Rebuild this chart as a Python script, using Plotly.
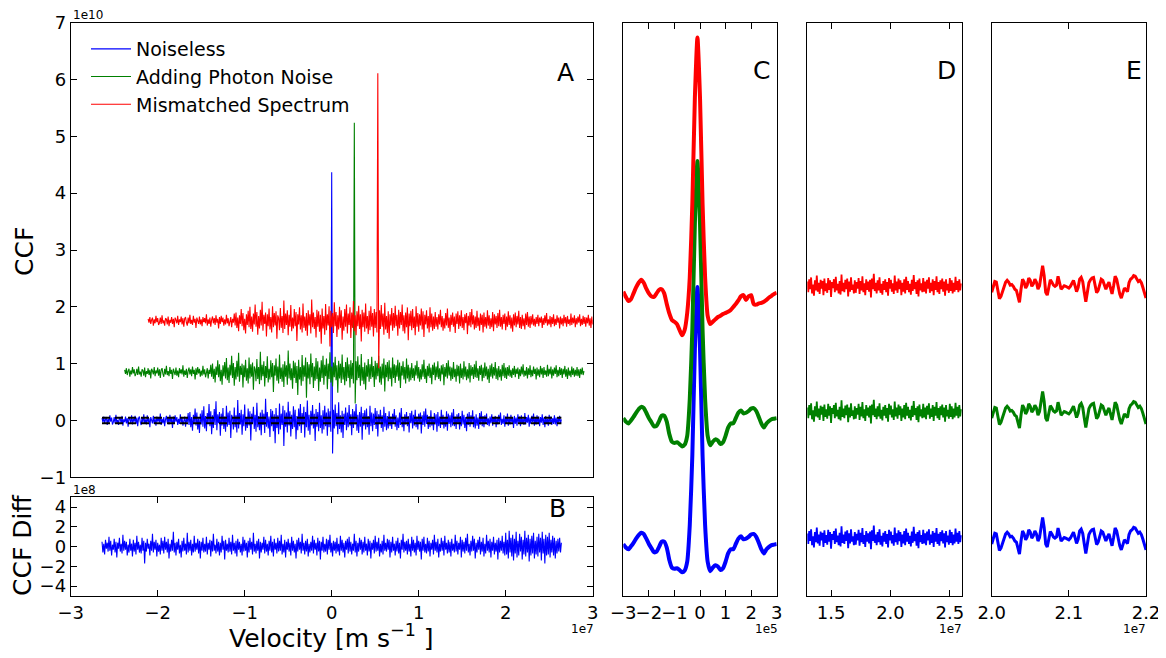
import plotly.graph_objects as go

# ---------------- data ----------------
series_names = ["Noiseless", "Adding Photon Noise", "Mismatched Spectrum"]
series_colors = ["#0000ff", "#008000", "#ff0000"]

# Panel A: velocity in units of 1e7 m/s, CCF in units of 1e10
vel_a_start = -2.64
vel_a_step = 0.01
noise_a = [
    0.04, -0.03, 0.07, -0.05, 0.02, 0.06, -0.08, 0.03, -0.04, 0.09,
    -0.02, 0.05, -0.07, -0.03, 0.06, -0.05, 0.10, -0.04, 0.01, -0.08,
    0.05, 0.03, -0.06, 0.08, -0.09, 0.02, -0.03, 0.07, -0.05, 0.04,
    -0.11, 0.06, 0.02, -0.04, 0.09, -0.07, 0.03, -0.02, 0.08, -0.06,
    0.05, -0.10, 0.04, 0.07, -0.03, -0.08, 0.06, -0.04, 0.11, -0.05,
    0.02, -0.07, 0.09, -0.03, 0.04, -0.12, 0.06, 0.01, -0.05, 0.08,
    -0.06, 0.03, -0.09, 0.07, -0.02, 0.05, -0.04, 0.12, -0.08, 0.03,
    -0.05, 0.06, -0.10, 0.02, 0.08, -0.04, 0.05, -0.07, 0.10, -0.03,
    0.04, -0.13, 0.07, -0.05, 0.09, -0.02, 0.06, -0.08, 0.03, -0.06,
    0.11, -0.04, 0.05, -0.09, 0.02, 0.07, -0.11, 0.04, -0.03, 0.13,
    -0.08, 0.15, -0.12, 0.06, -0.18, 0.10, -0.05, 0.21, -0.09, 0.14,
    -0.16, 0.04, -0.22, 0.12, -0.07, 0.18, -0.11, 0.25, -0.14, 0.08,
    -0.19, 0.13, -0.06, 0.29, -0.10, 0.16, -0.24, 0.09, -0.13, 0.20,
    -0.08, 0.34, -0.17, 0.11, -0.05, 0.15, -0.27, 0.12, -0.09, 0.22,
    -0.15, 0.07, -0.20, 0.26, -0.11, 0.14, -0.08, 0.17, -0.31, 0.10,
    0.05, -0.16, 0.23, -0.12, 0.09, -0.21, 0.36, -0.14, 0.13, -0.07,
    0.19, -0.25, 0.11, -0.10, 0.28, -0.18, 0.06, -0.13, 0.21, -0.09,
    0.16, -0.35, 0.12, -0.06, 0.24, -0.15, 0.10, -0.20, 0.31, -0.12,
    0.08, -0.17, 0.14, -0.26, 0.19, -0.08, 0.12, -0.22, 0.38, -0.11,
    0.15, -0.14, 0.07, -0.29, 0.20, -0.10, 0.17, -0.19, 0.11, -0.40,
    0.22, -0.13, 0.09, -0.24, 0.30, -0.16, 0.12, -0.08, 0.26, -0.45,
    0.18, -0.11, 0.14, -0.21, 0.33, -0.09, 0.16, -0.28, 0.10, -0.15,
    0.25, -0.12, 0.19, -0.33, 0.08, -0.17, 0.21, -0.10, 0.29, -0.22,
    0.13, -0.07, 0.24, -0.30, 0.15, -0.12, 0.35, -0.18, 0.10, -0.25,
    0.17, -0.09, 0.27, -0.14, 0.12, -0.36, 0.20, -0.11, 0.15, -0.19,
    0.31, -0.13, 0.09, -0.23, 0.18, -0.16, 0.26, -0.10, 0.14, -0.27,
    0.21, -0.12, 0.16, -0.20,
    0.0, 0.0,
    0.19, -0.14, 0.28, -0.10, 0.13, -0.24, 0.32, -0.15, 0.09, -0.21,
    0.17, -0.31, 0.12, -0.08, 0.23, -0.17, 0.14, -0.12, 0.27, -0.09,
    0.11, -0.26, 0.20, -0.13, 0.16, -0.07, 0.29, -0.18, 0.10, -0.22,
    0.15, -0.11, 0.24, -0.34, 0.13, -0.09, 0.18, -0.16, 0.21, -0.12,
    0.08, -0.25, 0.26, -0.10, 0.14, -0.19, 0.12, -0.08, 0.22, -0.15,
    0.17, -0.28, 0.11, -0.06, 0.19, -0.13, 0.09, -0.20, 0.24, -0.11,
    0.13, -0.17, 0.08, -0.14,
    0.16, -0.10, 0.07, -0.15, 0.12, -0.06, 0.20, -0.11, 0.09, -0.17,
    0.05, -0.13, 0.14, -0.08, 0.22, -0.12, 0.06, -0.19, 0.11, -0.07,
    0.15, -0.10, 0.08, -0.21, 0.13, -0.05, 0.17, -0.14, 0.10, -0.09,
    0.19, -0.12, 0.07, -0.16, 0.12, -0.04, 0.14, -0.23, 0.09, -0.08,
    0.16, -0.11, 0.21, -0.06, 0.10, -0.15, 0.08, -0.12, 0.18, -0.09,
    0.06, -0.17, 0.13, -0.07, 0.11, -0.20, 0.15, -0.10, 0.07, -0.13,
    0.19, -0.08, 0.10, -0.14, 0.05, -0.11, 0.16, -0.18, 0.12, -0.06,
    0.09, -0.12, 0.14, -0.09, 0.20, -0.10, 0.07, -0.15, 0.11, -0.05,
    0.13, -0.16, 0.08, -0.10, 0.17, -0.07, 0.10, -0.13, 0.06, -0.19,
    0.12, -0.08, 0.15, -0.11, 0.09, -0.06, 0.18, -0.12, 0.07, -0.14,
    0.11, -0.09, 0.05, -0.15, 0.13, -0.07, 0.16, -0.10, 0.08, -0.12,
    0.09, -0.06, 0.12, -0.08, 0.04, -0.10, 0.07, -0.05, 0.11, -0.09,
    0.06, -0.03, 0.08, -0.12, 0.05, -0.07, 0.10, -0.04, 0.14, -0.08,
    0.03, -0.06, 0.09, -0.11, 0.07, -0.05, 0.12, -0.09, 0.04, -0.07,
    0.10, -0.03, 0.06, -0.13, 0.08, -0.06, 0.05, -0.09, 0.11, -0.04,
    0.07, -0.10, 0.09, -0.05, 0.03, -0.08, 0.13, -0.07, 0.06, -0.04,
    0.10, -0.11, 0.05, -0.06, 0.08, -0.03, 0.12, -0.09, 0.04, -0.07,
    0.09, -0.05, 0.07, -0.10, 0.06, -0.04, 0.11, -0.08, 0.05, -0.12,
    0.08, -0.06, 0.03, -0.09, 0.10, -0.05, 0.07, -0.08, 0.04, -0.06,
    0.09, -0.07, 0.05, -0.10, 0.06, -0.04, 0.08, -0.05, 0.02,
]
peak_index_a = 264
offset_a = [0.0, 0.85, 1.75]
shift_a = [0.0, 0.26, 0.53]
peak_a = [4.37, 4.39, 4.36]
dip_a = [-0.58, -0.55, -0.83]
dash_levels_a = [0.05, -0.05]

# Panel B: CCF difference in units of 1e8 (same velocity grid as blue in A)
diff_b = [
    0.5, -0.6, 0.3, -0.8, 0.7, -0.2, 0.4, -0.5, 1.0, -0.4,
    0.6, -0.9, 0.2, -0.3, 0.8, -0.6, 0.5, -1.1, 0.4, -0.2,
    0.9, -0.5, 0.3, -0.7, 1.2, -0.4, 0.6, -0.3, 0.5, -0.9,
    0.2, -0.6, 0.8, -0.4, 0.3, -1.0, 0.7, -0.5, 0.4, -0.8,
    1.1, -0.3, 0.5, -0.6, 0.2, -0.7, 0.9, -0.4, 0.6, -1.7,
    0.4, -0.5, 0.8, -0.2, 0.3, -0.9, 0.6, -0.4, 1.3, -0.6,
    0.5, -0.3, 0.7, -1.0, 0.4, -0.5, 0.2, -0.8, 0.9, -0.4,
    0.6, -0.7, 1.0, -0.3, 0.5, -0.6, 0.8, -1.2, 0.3, -0.5,
    0.7, -0.4, 1.5, -0.6, 0.4, -0.9, 0.5, -0.3, 0.8, -0.7,
    0.2, -1.1, 0.6, -0.5, 0.9, -0.4, 0.3, -0.8, 1.4, -0.6,
    0.5, -0.4, 0.7, -0.9, 0.3, -0.6, 1.1, -0.5, 0.4, -0.3,
    0.8, -0.7, 0.6, -1.2, 0.5, -0.4, 0.9, -0.6, 0.3, -0.5,
    1.0, -0.8, 0.4, -0.3, 0.7, -1.0, 0.6, -0.5, 1.3, -0.4,
    0.2, -0.7, 0.8, -0.5, 0.5, -0.9, 0.4, -0.6, 1.1, -0.3,
    0.6, -1.3, 0.7, -0.4, 0.3, -0.6, 0.9, -0.5, 0.5, -0.8,
    1.2, -0.4, 0.4, -0.7, 0.6, -1.0, 0.8, -0.3, 0.5, -0.6,
    0.3, -0.9, 1.0, -0.5, 0.7, -0.4, 0.4, -1.1, 0.6, -0.6,
    0.9, -0.3, 0.5, -0.8, 1.4, -0.5, 0.3, -0.7, 0.6, -0.4,
    0.8, -1.2, 0.5, -0.6, 0.4, -0.3, 1.0, -0.7, 0.7, -0.5,
    0.3, -0.9, 0.6, -0.4, 1.1, -0.6, 0.5, -1.0, 0.8, -0.3,
    0.4, -0.7, 0.9, -0.5, 0.6, -0.4, 1.2, -0.8, 0.3, -0.6,
    0.7, -1.1, 0.5, -0.3, 0.8, -0.5, 0.4, -0.9, 1.0, -0.4,
    0.6, -0.6, 0.3, -1.2, 0.7, -0.5, 0.9, -0.3, 0.5, -0.7,
    1.3, -0.4, 0.4, -0.8, 0.6, -0.5, 0.8, -1.0, 0.3, -0.6,
    0.5, -0.4, 1.1, -0.7, 0.7, -0.3, 0.4, -0.9, 0.9, -0.5,
    0.6, -1.3, 0.5, -0.4, 1.0, -0.6, 0.3, -0.5, 0.8, -0.8,
    0.7, -0.3, 1.2, -0.6, 0.4, -1.0, 0.6, -0.4, 0.5, -0.7,
    0.9, -0.5, 0.3, -0.9, 1.1, -0.4, 0.7, -0.6, 0.4, -1.1,
    0.6, -0.3, 0.8, -0.7, 1.0, -0.5, 0.5, -0.8, 0.3, -0.4,
    1.3, -0.6, 0.6, -1.0, 0.4, -0.5, 0.9, -0.3, 0.7, -0.8,
    0.5, -0.6, 1.0, -0.4, 0.3, -0.9, 0.8, -0.5, 0.6, -1.2,
    0.4, -0.3, 0.7, -0.7, 1.1, -0.5, 0.5, -0.4, 0.9, -1.0,
    0.3, -0.6, 0.6, -0.8, 1.2, -0.4, 0.4, -0.5, 0.8, -0.3,
    0.7, -1.1, 0.5, -0.6, 1.0, -0.4, 0.3, -0.9, 0.6, -0.5,
    0.9, -0.7, 0.4, -1.2, 0.7, -0.3, 1.3, -0.6, 0.5, -0.4,
    0.6, -0.8, 0.8, -0.5, 0.3, -1.0, 1.0, -0.4, 0.7, -0.6,
    0.4, -0.9, 1.1, -0.3, 0.6, -0.5, 0.5, -1.3, 0.8, -0.4,
    1.0, -0.6, 0.3, -0.7, 0.9, -0.5, 0.6, -1.0, 0.4, -0.3,
    0.7, -0.8, 1.2, -0.4, 0.5, -0.6, 0.8, -1.1, 0.3, -0.5,
    0.9, -0.4, 0.6, -0.9, 1.1, -0.3, 0.4, -0.7, 0.7, -0.6,
    0.5, -1.0, 0.8, -0.4, 0.3, -0.6, 1.2, -0.5, 0.6, -0.8,
    0.4, -0.3, 1.0, -1.1, 0.7, -0.5, 0.5, -0.7, 0.9, -0.4,
    1.3, -0.6, 0.3, -0.9, 0.6, -0.5, 1.1, -0.4, 0.8, -1.2,
    0.4, -0.6, 0.7, -0.3, 1.0, -0.8, 0.5, -0.5, 0.9, -1.0,
    0.3, -0.7, 1.2, -0.4, 0.6, -0.6, 0.8, -1.1, 0.5, -0.4,
    1.0, -0.8, 0.4, -0.5, 0.7, -1.3, 0.9, -0.6, 0.6, -0.4,
    1.1, -0.7, 0.5, -0.9,
    1.4, -0.8, 0.7, -1.2, 1.6, -0.6, 0.9, -1.0, 1.2, -1.4,
    0.8, -0.7, 1.5, -1.1, 0.6, -0.9, 1.3, -0.5, 1.0, -1.3,
    0.7, -0.8, 1.6, -1.0, 0.9, -0.6, 1.2, -1.5, 0.8, -0.9,
    1.1, -0.7, 1.4, -1.2, 0.6, -0.8, 1.0, -1.0, 1.3, -0.6,
    0.9, -1.4, 1.5, -0.7, 0.8, -1.7, 1.2, -0.9, 1.0, -0.8,
    1.4, -1.1, 0.7, -0.6, 1.1, -0.9, 0.9, -1.2, 0.6, -0.7,
    0.8, -0.5, 0.9, -0.6, 0.4,
]

# Panels C, D, E share an (unlabelled) CCF scale in units of 1e10
offset_cde = [0.0, 2.13, 4.26]

# Panel C: velocity in units of 1e5 m/s
vel_c_start = -3.0
vel_c_step = 0.1
ccf_c = [
    -0.10, -0.16, -0.19, -0.14, -0.08, -0.01, 0.05, 0.09, 0.07, -0.01,
    -0.10, -0.17, -0.24, -0.23, -0.15, -0.06, -0.06, -0.16, -0.37, -0.50,
    -0.52, -0.51, -0.54, -0.58, -0.55, -0.40, 0.22, 1.40, 3.20, 4.25,
    3.20, 1.40, 0.22, -0.40, -0.56, -0.50, -0.46, -0.48, -0.54, -0.51,
    -0.40, -0.26, -0.19, -0.19, -0.10, -0.01, 0.03, -0.02, -0.01, 0.02,
    0.06, 0.07, 0.02, -0.08, -0.19, -0.26, -0.19, -0.15, -0.12, -0.11,
    -0.10,
]
ccf_c_red = [
    -0.09, -0.18, -0.25, -0.22, -0.12, -0.02, 0.06, 0.11, 0.06, -0.04,
    -0.12, -0.17, -0.18, -0.12, -0.06, -0.05, -0.12, -0.30, -0.46, -0.57,
    -0.60, -0.64, -0.74, -0.83, -0.74, -0.45, 0.15, 1.40, 3.20, 4.21,
    3.20, 1.40, 0.15, -0.50, -0.64, -0.60, -0.56, -0.52, -0.50, -0.47,
    -0.45, -0.43, -0.40, -0.35, -0.30, -0.24, -0.17, -0.15, -0.23, -0.17,
    -0.15, -0.30, -0.31, -0.29, -0.28, -0.26, -0.23, -0.19, -0.16, -0.13,
    -0.11,
]

# Panel D: velocity in units of 1e7 m/s
vel_d_start = 1.3
vel_d_step = 0.008
ccf_d = [
    0.08, -0.10, 0.12, -0.05, 0.15, -0.12, 0.03, -0.16, 0.10, -0.07,
    0.18, -0.09, 0.06, -0.13, 0.11, -0.04, 0.09, -0.15, 0.13, -0.08,
    0.05, -0.11, 0.14, -0.06, 0.10, -0.18, 0.07, -0.03, 0.12, -0.10,
    0.16, -0.07, 0.04, -0.12, 0.09, -0.14, 0.20, -0.08, 0.06, -0.10,
    0.11, -0.05, 0.13, -0.17, 0.08, -0.09, 0.15, -0.06, 0.03, -0.12,
    0.10, -0.11, 0.07, -0.04, 0.14, -0.13, 0.09, -0.07, 0.17, -0.10,
    0.05, -0.15, 0.12, -0.06, 0.08, -0.09, 0.11, -0.19, 0.13, -0.05,
    0.21, -0.08, 0.06, -0.12, 0.10, -0.07, 0.15, -0.11, 0.04, -0.14,
    0.09, -0.06, 0.12, -0.10, 0.07, -0.16, 0.14, -0.04, 0.11, -0.09,
    0.05, -0.13, 0.18, -0.07, 0.08, -0.11, 0.13, -0.05, 0.10, -0.15,
    0.06, -0.09, 0.12, -0.12, 0.16, -0.06, 0.09, -0.10, 0.04, -0.14,
    0.11, -0.08, 0.19, -0.05, 0.07, -0.13, 0.10, -0.17, 0.13, -0.07,
    0.05, -0.10, 0.14, -0.09, 0.08, -0.12, 0.11, -0.04, 0.15, -0.11,
    0.06, -0.08, 0.12, -0.15, 0.09, -0.06, 0.17, -0.10, 0.07, -0.13,
    0.10, -0.05, 0.13, -0.09, 0.08, -0.16, 0.12, -0.07, 0.04, -0.11,
    0.14, -0.08, 0.10, -0.12, 0.06, -0.09, 0.16, -0.06, 0.09, -0.10,
    0.12, -0.07, 0.05,
]

# Panel E: velocity in units of 1e7 m/s
vel_e_start = 2.0
vel_e_step = 0.002
ccf_e = [
    -0.10, 0.01, 0.08, 0.07, -0.07, -0.21, -0.17, -0.09, 0.00, 0.07,
    0.10, 0.07, 0.02, 0.03, 0.00, -0.05, -0.07, -0.19, -0.27, -0.05,
    0.12, 0.07, -0.03, 0.02, 0.14, 0.10, 0.00, 0.04, 0.12, 0.07,
    -0.05, 0.01, 0.18, 0.35, 0.18, -0.10, -0.15, 0.01, 0.11, 0.07,
    0.02, 0.00, 0.02, 0.17, 0.08, -0.05, -0.02, 0.01, 0.00, -0.02,
    -0.03, 0.00, 0.06, 0.10, 0.01, -0.09, -0.02, 0.12, 0.15, 0.08,
    -0.10, -0.26, -0.10, 0.06, 0.11, 0.14, 0.15, 0.04, -0.11, -0.07,
    0.04, 0.12, 0.10, 0.00, -0.05, 0.02, 0.07, -0.03, -0.13, 0.01,
    0.17, 0.12, -0.03, -0.13, -0.20, -0.13, -0.03, -0.06, -0.09, 0.06,
    0.12, 0.14, 0.18, 0.17, 0.11, 0.08, 0.10, 0.06, -0.02, -0.10,
    -0.20,
]

# tick labels
ticks_a_y = [-1, 0, 1, 2, 3, 4, 5, 6, 7]
ticks_b_x = [-3, -2, -1, 0, 1, 2, 3]
ticks_b_y = [-4, -2, 0, 2, 4]
ticks_c_x = [-3, -2, -1, 0, 1, 2, 3]
ticks_d_x = [1.5, 2.0, 2.5]
ticks_e_x = [2.0, 2.1, 2.2]


def grid(start, step, n):
    return [round(start + i * step, 6) for i in range(n)]


def lab(v, fmt="{:g}"):
    s = fmt.format(v)
    return s.replace("-", "\u2212")


# ---------------- figure ----------------
W, H = 1166, 658
OFF = 8  # the page body adds an 8px margin; positions below are screen pixels
FONT = "DejaVu Sans"
fig = go.Figure()

vel_a = grid(vel_a_start, vel_a_step, len(noise_a))

# Panel A traces
for k in range(3):
    yv = [offset_a[k] + v for v in noise_a]
    yv[peak_index_a] = offset_a[k] + peak_a[k]
    yv[peak_index_a + 1] = offset_a[k] + dip_a[k]
    fig.add_trace(go.Scatter(
        x=[round(v + shift_a[k], 6) for v in vel_a], y=yv, mode="lines",
        line=dict(color=series_colors[k], width=1.1),
        name=series_names[k], legendgroup=series_names[k],
        xaxis="x", yaxis="y", showlegend=True,
    ))
for lvl in dash_levels_a:
    fig.add_trace(go.Scatter(
        x=[vel_a[0], vel_a[-1]], y=[lvl, lvl], mode="lines",
        line=dict(color="black", width=2, dash="8px,5px"),
        xaxis="x", yaxis="y", showlegend=False, hoverinfo="skip",
    ))

# Panel B
fig.add_trace(go.Scatter(
    x=vel_a, y=diff_b, mode="lines", line=dict(color=series_colors[0], width=1.1),
    xaxis="x2", yaxis="y2", showlegend=False,
))

# Panel C
vel_c = grid(vel_c_start, vel_c_step, len(ccf_c))
for k in range(3):
    base = ccf_c_red if k == 2 else ccf_c
    fig.add_trace(go.Scatter(
        x=vel_c, y=[offset_cde[k] + v for v in base], mode="lines",
        line=dict(color=series_colors[k], width=4, shape="spline", smoothing=0.6),
        xaxis="x3", yaxis="y3", showlegend=False,
    ))

# Panel D
vel_d = grid(vel_d_start, vel_d_step, len(ccf_d))
for k in range(3):
    fig.add_trace(go.Scatter(
        x=vel_d, y=[offset_cde[k] + v for v in ccf_d], mode="lines",
        line=dict(color=series_colors[k], width=1.8),
        xaxis="x4", yaxis="y4", showlegend=False,
    ))

# Panel E
vel_e = grid(vel_e_start, vel_e_step, len(ccf_e))
for k in range(3):
    fig.add_trace(go.Scatter(
        x=vel_e, y=[offset_cde[k] + v for v in ccf_e], mode="lines",
        line=dict(color=series_colors[k], width=3),
        xaxis="x5", yaxis="y5", showlegend=False,
    ))


def px_x(p):
    return (p - OFF) / W


def px_y(p):
    return 1 - (p - OFF) / H


common = dict(showline=True, linecolor="black", linewidth=1, mirror="ticks",
              ticks="inside", ticklen=6, tickwidth=1, tickcolor="black",
              showgrid=False, zeroline=False, automargin=False, tickangle=0,
              tickfont=dict(family=FONT, size=18, color="black"))
noticks = dict(showline=True, linecolor="black", linewidth=1, mirror=True,
               ticks="", showticklabels=False, showgrid=False, zeroline=False,
               automargin=False)

xa_dom = [px_x(70.7), px_x(592.7)]
cde_y = [px_y(596), px_y(22.7)]
cde_range = [-0.98, 8.72]

fig.update_layout(
    width=W, height=H,
    margin=dict(l=0, r=0, t=0, b=0, autoexpand=False),
    paper_bgcolor="white", plot_bgcolor="white",
    font=dict(family=FONT, color="black"),
    xaxis=dict(domain=xa_dom, range=[-3, 3], anchor="y", **noticks),
    yaxis=dict(domain=[px_y(477.3), px_y(22.7)], range=[-1, 7], anchor="x",
               tickmode="array", tickvals=ticks_a_y,
               ticktext=[lab(v) for v in ticks_a_y], **common),
    xaxis2=dict(domain=xa_dom, range=[-3, 3], anchor="y2",
                tickmode="array", tickvals=ticks_b_x,
                ticktext=[lab(v) for v in ticks_b_x], **common),
    yaxis2=dict(domain=[px_y(596), px_y(497.3)], range=[-5, 5], anchor="x2",
                tickmode="array", tickvals=ticks_b_y,
                ticktext=[lab(v) for v in ticks_b_y], **common),
    xaxis3=dict(domain=[px_x(623.3), px_x(776.7)], range=[-3, 3], anchor="y3",
                tickmode="array", tickvals=ticks_c_x,
                ticktext=[lab(v) for v in ticks_c_x], **common),
    yaxis3=dict(domain=cde_y, range=cde_range, anchor="x3", **noticks),
    xaxis4=dict(domain=[px_x(807.3), px_x(961.7)], range=[1.3, 2.6], anchor="y4",
                tickmode="array", tickvals=ticks_d_x,
                ticktext=[lab(v, "{:.1f}") for v in ticks_d_x], **common),
    yaxis4=dict(domain=cde_y, range=cde_range, anchor="x4", **noticks),
    xaxis5=dict(domain=[px_x(991.7), px_x(1146)], range=[2.0, 2.2], anchor="y5",
                tickmode="array", tickvals=ticks_e_x,
                ticktext=[lab(v, "{:.1f}") for v in ticks_e_x], **common),
    yaxis5=dict(domain=cde_y, range=cde_range, anchor="x5", **noticks),
    legend=dict(x=px_x(86), y=px_y(30), xanchor="left", yanchor="top",
                font=dict(family=FONT, size=19, color="black"),
                bgcolor="rgba(0,0,0,0)", tracegroupgap=0, itemwidth=40),
    showlegend=True,
)

ann = []


def add_text(text, x, y, size, xanchor="center", yanchor="middle", angle=0):
    ann.append(dict(text=text, x=px_x(x), y=px_y(y), xref="paper", yref="paper",
                    showarrow=False, xanchor=xanchor, yanchor=yanchor,
                    textangle=angle, font=dict(family=FONT, size=size, color="black")))


panel_letters = ["A", "B", "C", "D", "E"]
letter_pos = [(565, 72), (557, 508), (762, 70), (946, 70), (1134, 70)]
for t, (x, y) in zip(panel_letters, letter_pos):
    add_text(t, x, y, 25)

add_text("1e10", 71, 15, 12, xanchor="left")
add_text("1e8", 71, 490, 12, xanchor="left")
add_text("1e7", 596, 629, 12, xanchor="right")
add_text("1e5", 780, 629, 12, xanchor="right")
add_text("1e7", 964, 629, 12, xanchor="right")
add_text("1e7", 1148, 629, 12, xanchor="right")
add_text("CCF", 24, 252, 25, angle=-90)
add_text("CCF Diff", 22, 546, 25, angle=-90)
add_text("Velocity [m s<sup>\u22121</sup> ]", 331, 636, 25)

fig.update_layout(annotations=ann)
fig.write_html("out.html")
